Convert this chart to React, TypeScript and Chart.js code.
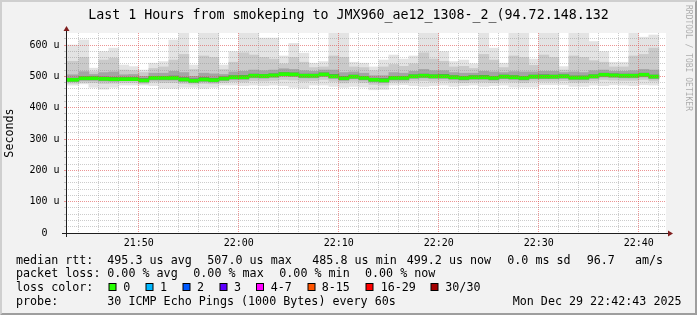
import React, { useEffect, useRef } from "react";
import { Chart, registerables } from "chart.js";

Chart.register(...registerables);

const MONO = '"DejaVu Sans Mono", "Liberation Mono", monospace';

const TITLE = "Last 1 Hours from smokeping to JMX960_ae12_1308-_2_(94.72.148.132";
const Y_TITLE = "Seconds";
const WATERMARK = "RRDTOOL / TOBI OETIKER";

// time axis, minutes of the day
const X_START = 21 * 60 + 42 + 43 / 60; // 21:42:43
const X_END = 22 * 60 + 42 + 43 / 60; // 22:42:43
const FIRST_STEP = 21 * 60 + 42; // first 60 s step starts 21:42:00
const Y_MAX = 638.3;

// per 60 s step, microseconds (30 pings)
const MEDIAN_RTT = [489, 489, 494, 494, 492, 491, 491, 491, 487, 495, 495, 495, 490, 485.8, 490, 488, 493, 497, 497, 502, 501, 503, 507, 506, 502, 502, 506, 500, 494, 499, 495, 489, 487, 495, 495, 500, 502, 500, 500, 497, 495, 497, 497, 495, 499, 497, 495, 499, 499, 499, 500, 496, 496, 500, 505, 503, 502, 502, 505, 499.2];
const RTT_MAX = [600, 600, 616, 526, 579, 590, 536, 531, 520, 542, 547, 616, 650, 536, 650, 650, 536, 579, 650, 650, 622, 622, 565, 605, 574, 542, 547, 650, 650, 545, 542, 530, 552, 568, 555, 565, 650, 650, 579, 547, 552, 540, 650, 590, 542, 650, 650, 555, 650, 650, 531, 650, 650, 611, 579, 545, 545, 650, 625, 632];
const RTT_MIN = [472, 472, 476, 465, 459, 465, 472, 472, 472, 470, 462, 462, 465, 465, 462, 465, 472, 472, 470, 472, 470, 472, 470, 465, 462, 472, 472, 468, 465, 468, 466, 457, 458, 472, 473, 470, 468, 470, 472, 468, 470, 472, 468, 470, 472, 466, 466, 466, 473, 473, 473, 468, 468, 472, 470, 473, 472, 470, 473, 472];
const SMOKE_MID_HI = [548, 548, 560, 515, 552, 558, 520, 518, 512, 525, 530, 552, 570, 522, 565, 560, 522, 545, 575, 568, 560, 555, 540, 560, 545, 528, 530, 565, 560, 530, 528, 518, 530, 538, 532, 540, 575, 555, 548, 530, 532, 525, 570, 552, 528, 565, 560, 535, 568, 560, 520, 565, 560, 550, 545, 530, 530, 565, 570, 590];
const SMOKE_MID_LO = [478, 478, 481, 480, 477, 478, 480, 480, 476, 482, 480, 480, 477, 475, 477, 476, 480, 483, 482, 486, 485, 487, 490, 488, 484, 486, 490, 484, 479, 484, 480, 474, 472, 482, 482, 485, 486, 484, 485, 482, 480, 482, 482, 480, 484, 482, 480, 484, 484, 484, 486, 481, 481, 485, 490, 488, 487, 487, 490, 485];
const SMOKE_INNER_HI = [505, 505, 515, 506, 512, 514, 505, 506, 500, 510, 510, 516, 512, 500, 510, 508, 506, 514, 516, 520, 518, 520, 524, 522, 518, 516, 520, 520, 512, 514, 510, 502, 502, 512, 510, 516, 522, 518, 518, 512, 510, 510, 516, 514, 512, 515, 514, 514, 516, 516, 512, 514, 512, 518, 520, 516, 516, 518, 522, 520];
const SMOKE_INNER_LO = [483, 483, 487, 487, 485, 484, 486, 486, 481, 488, 488, 488, 483, 480, 483, 481, 486, 490, 490, 495, 494, 496, 500, 499, 495, 495, 499, 493, 487, 492, 488, 482, 480, 488, 488, 493, 495, 493, 493, 490, 488, 490, 490, 488, 492, 490, 488, 492, 492, 492, 493, 489, 489, 493, 498, 496, 495, 495, 498, 492];
const SMOKE_CORE_HI = [494, 494, 499, 499, 498, 497, 496, 496, 493, 500, 500, 501, 496, 492, 496, 494, 498, 502, 503, 507, 506, 508, 512, 511, 507, 507, 511, 506, 500, 504, 500, 494, 493, 500, 500, 505, 507, 505, 506, 502, 500, 502, 503, 500, 504, 502, 500, 504, 505, 504, 505, 501, 501, 505, 510, 508, 507, 507, 510, 504];
const SMOKE_CORE_LO = [485, 485, 490, 490, 488, 487, 487, 487, 483, 491, 491, 491, 486, 482, 486, 484, 489, 493, 493, 498, 497, 499, 503, 502, 498, 498, 502, 496, 490, 495, 491, 485, 483, 491, 491, 496, 498, 496, 496, 493, 491, 493, 493, 491, 495, 493, 491, 495, 495, 495, 496, 492, 492, 496, 501, 499, 498, 498, 501, 495];

// axis grid
const X_GRID_STEP = 2; // minutes
const X_LABEL_STEP = 10;
const Y_GRID_STEP = 20;
const Y_LABEL_STEP = 100;

const LEGEND_ROWS: { y: number; items: [number, string][] }[] = [
  { y: 263.5, items: [[16, "median rtt:"], [107.3, "495.3 us avg"], [207.3, "507.0 us max"], [312.3, "485.8 us min"], [406.7, "499.2 us now"], [507.3, "0.0 ms sd"], [586.7, "96.7"], [635, "am/s"]] },
  { y: 277, items: [[16, "packet loss:"], [107.3, "0.00 % avg"], [193.3, "0.00 % max"], [279.3, "0.00 % min"], [365, "0.00 % now"]] },
  { y: 291, items: [[16, "loss color:"]] },
  { y: 304.5, items: [[16, "probe:"], [107.3, "30 ICMP Echo Pings (1000 Bytes) every 60s"], [512.7, "Mon Dec 29 22:42:43 2025"]] },
];
const LOSS_LABELS = ["0", "1", "2", "3", "4-7", "8-15", "16-29", "30/30"];
const LOSS_COLORS = ["#26ff00", "#00b8ff", "#0059ff", "#5e00ff", "#ff00ff", "#ff5500", "#ff0000", "#a10000"];
const LOSS_BOX_X = [108.5, 145.5, 182.5, 219.5, 256, 307.5, 365.5, 430.5];
const LOSS_TEXT_X = [123.3, 160, 197, 234, 270.7, 321.7, 380.7, 445.3];

const GRID = "rgba(143,143,143,0.45)";
const MGRID = "rgba(222,79,79,0.6)";

const fmtTime = (m: number) => {
  const h = Math.floor(m / 60);
  const mm = Math.round(m - h * 60);
  return `${String(h).padStart(2, "0")}:${String(mm).padStart(2, "0")}`;
};

export default function App() {
  const ref = useRef<HTMLCanvasElement | null>(null);

  useEffect(() => {
    const canvas = ref.current;
    if (!canvas) return;

    const xs = MEDIAN_RTT.map((_, i) => FIRST_STEP + 0.5 + i);
    const band = (lo: number[], hi: number[]) => xs.map((x, i) => ({ x, y: [lo[i], hi[i]] }));
    const greenHalf = 4.8;

    const xTicks: number[] = [];
    for (let m = Math.ceil(X_START / X_GRID_STEP) * X_GRID_STEP; m <= X_END; m += X_GRID_STEP) xTicks.push(m);
    const yTicks: number[] = [];
    for (let v = 0; v <= Y_MAX; v += Y_GRID_STEP) yTicks.push(v);

    const isMajorX = (v: number) => Math.abs(v / X_LABEL_STEP - Math.round(v / X_LABEL_STEP)) < 1e-6;
    const isMajorY = (v: number) => v % Y_LABEL_STEP === 0;

    const barCommon = {
      type: "bar" as const,
      grouped: false,
      barPercentage: 1,
      categoryPercentage: 1,
      borderWidth: 0,
      clip: 0,
    };

    const framePlugin = {
      id: "rrdFrame",
      beforeDraw(chart: any) {
        const { ctx, width: W, height: H, chartArea: a } = chart;
        ctx.save();
        ctx.fillStyle = "#f2f2f2";
        ctx.fillRect(0, 0, W, H);
        ctx.fillStyle = "#cfcfcf";
        ctx.beginPath();
        ctx.moveTo(0, 0); ctx.lineTo(0, H); ctx.lineTo(2, H - 2); ctx.lineTo(2, 2); ctx.lineTo(W - 2, 2); ctx.lineTo(W, 0);
        ctx.closePath(); ctx.fill();
        ctx.fillStyle = "#9e9e9e";
        ctx.beginPath();
        ctx.moveTo(0, H); ctx.lineTo(W, H); ctx.lineTo(W, 0); ctx.lineTo(W - 2, 2); ctx.lineTo(W - 2, H - 2); ctx.lineTo(2, H - 2);
        ctx.closePath(); ctx.fill();
        ctx.fillStyle = "#ffffff";
        ctx.fillRect(a.left, a.top, a.right - a.left, a.bottom - a.top);
        ctx.restore();
      },
      afterDraw(chart: any) {
        const { ctx, chartArea: a } = chart;
        const x0 = Math.round(a.left), y0 = Math.round(a.bottom);
        const x1 = Math.round(a.right), yTop = Math.round(a.top);
        ctx.save();
        // axes
        ctx.fillStyle = "#1f1f1f";
        ctx.fillRect(x0 - 4, y0, x1 - x0 + 8, 1);
        ctx.fillRect(x0, yTop - 4, 1, y0 - yTop + 8);
        // arrows
        ctx.fillStyle = "#801f1f";
        ctx.beginPath();
        ctx.moveTo(x1 + 2, y0 - 3 + 0.5); ctx.lineTo(x1 + 2, y0 + 3 + 0.5); ctx.lineTo(x1 + 7, y0 + 0.5);
        ctx.closePath(); ctx.fill();
        ctx.beginPath();
        ctx.moveTo(x0 - 3 + 0.5, yTop - 2); ctx.lineTo(x0 + 3 + 0.5, yTop - 2); ctx.lineTo(x0 + 0.5, yTop - 7);
        ctx.closePath(); ctx.fill();

        // title
        ctx.fillStyle = "#000";
        ctx.font = `13.3px ${MONO}`;
        ctx.textAlign = "center";
        ctx.textBaseline = "alphabetic";
        ctx.fillText(TITLE, chart.width / 2, 18.5);

        // legend
        ctx.font = `11.7px ${MONO}`;
        ctx.textAlign = "left";
        for (const row of LEGEND_ROWS) {
          for (const [x, t] of row.items) ctx.fillText(t, x, row.y);
        }
        LOSS_LABELS.forEach((lab, i) => {
          ctx.fillStyle = "#000";
          ctx.fillRect(LOSS_BOX_X[i], 283, 8, 8);
          ctx.fillStyle = LOSS_COLORS[i];
          ctx.fillRect(LOSS_BOX_X[i] + 1, 284, 6, 6);
          ctx.fillStyle = "#000";
          ctx.fillText(lab, LOSS_TEXT_X[i], 291);
        });

        // watermark
        ctx.save();
        ctx.translate(688, 5);
        ctx.rotate(Math.PI / 2);
        ctx.font = `8px ${MONO}`;
        ctx.fillStyle = "rgba(0,0,0,0.3)";
        ctx.textBaseline = "middle";
        ctx.textAlign = "left";
        ctx.fillText(WATERMARK, 0, 0);
        ctx.restore();
        ctx.restore();
      },
    };

    const chart = new Chart(canvas, {
      type: "bar",
      data: {
        datasets: [
          { ...barCommon, label: "median", order: 0, backgroundColor: "#26ff00", data: xs.map((x, i) => ({ x, y: [MEDIAN_RTT[i] - greenHalf, MEDIAN_RTT[i] + greenHalf] })) },
          { ...barCommon, label: "core", order: 1, backgroundColor: "#717171", data: band(SMOKE_CORE_LO, SMOKE_CORE_HI) },
          { ...barCommon, label: "inner", order: 2, backgroundColor: "#a4a4a4", data: band(SMOKE_INNER_LO, SMOKE_INNER_HI) },
          { ...barCommon, label: "mid", order: 3, backgroundColor: "#cacaca", data: band(SMOKE_MID_LO, SMOKE_MID_HI) },
          { ...barCommon, label: "outer", order: 4, backgroundColor: "#e3e3e3", data: band(RTT_MIN, RTT_MAX) },
        ] as any,
      },
      options: {
        animation: false,
        responsive: false,
        maintainAspectRatio: false,
        events: [],
        layout: { padding: { left: 0, top: 33, right: 31, bottom: 0 } },
        plugins: { legend: { display: false }, tooltip: { enabled: false }, title: { display: false } },
        scales: {
          x: {
            type: "linear",
            min: X_START,
            max: X_END,
            offset: false,
            grid: {
              offset: false,
              z: 1,
              drawTicks: false,
              lineWidth: 1,
              borderDash: [1, 1],
              color: (c: any) => (c.tick && isMajorX(c.tick.value) ? MGRID : GRID),
            } as any,
            border: { display: false, dash: [1, 1] },
            ticks: {
              autoSkip: false,
              maxRotation: 0,
              minRotation: 0,
              padding: 4.5,
              color: "#000",
              font: { family: MONO, size: 10 },
              callback: (v: any) => (isMajorX(Number(v)) ? fmtTime(Number(v)) : ""),
            },
            afterBuildTicks: (s: any) => {
              s.ticks = xTicks.map((value) => ({ value }));
            },
            afterFit: (s: any) => {
              s.height = 82;
            },
          },
          y: {
            type: "linear",
            min: 0,
            max: Y_MAX,
            grid: {
              z: 1,
              drawTicks: true,
              tickLength: 2,
              lineWidth: 1,
              borderDash: [1, 1],
              color: (c: any) => (c.tick && isMajorY(c.tick.value) ? MGRID : GRID),
              tickColor: (c: any) => (c.tick && isMajorY(c.tick.value) ? MGRID : GRID),
            } as any,
            border: { display: false, dash: [1, 1] },
            ticks: {
              autoSkip: false,
              padding: 4.5,
              color: "#000",
              font: { family: MONO, size: 10 },
              callback: (v: any) => {
                const n = Number(v);
                if (!isMajorY(n)) return "";
                return n === 0 ? "0  " : `${n} u`;
              },
            },
            title: {
              display: true,
              text: Y_TITLE,
              color: "#000",
              font: { family: MONO, size: 11.7 },
              padding: { top: 3.3, bottom: 0 },
            },
            afterBuildTicks: (s: any) => {
              s.ticks = yTicks.map((value) => ({ value }));
            },
            afterFit: (s: any) => {
              s.width = 66;
            },
          },
        },
      } as any,
      plugins: [framePlugin],
    });

    return () => chart.destroy();
  }, []);

  return (
    <div style={{ position: "fixed", left: 0, top: 0, width: 697, height: 315 }}>
      <canvas ref={ref} width={697} height={315} style={{ display: "block" }} />
    </div>
  );
}
